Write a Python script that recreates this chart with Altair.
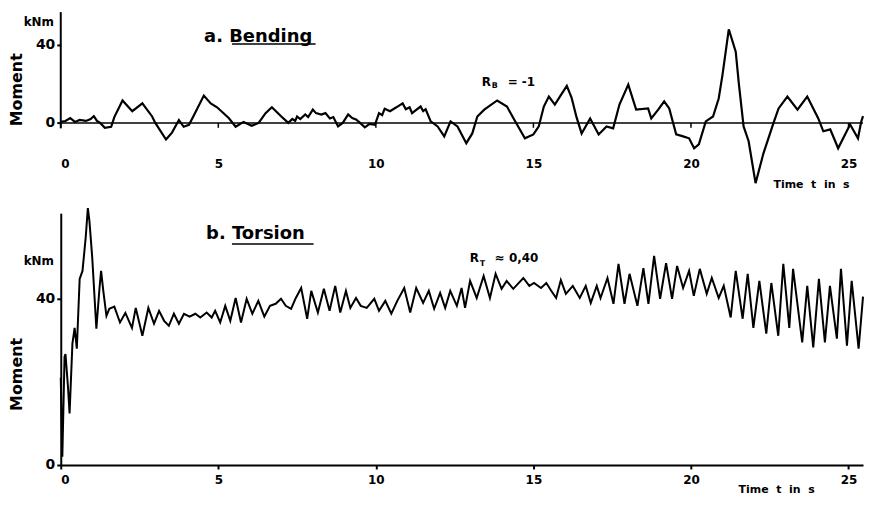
import altair as alt
import pandas as pd

# ---------------- data ----------------
bend_t = [0, 0.15, 0.3, 0.45, 0.6, 0.8, 0.95, 1.05, 1.15, 1.25, 1.4, 1.6, 1.7, 1.96, 2.27, 2.59,
          2.9, 3.0, 3.34, 3.53, 3.75, 3.9, 4.07, 4.23, 4.54, 4.76, 4.96, 5.33, 5.55, 5.8, 6.06,
          6.28, 6.5, 6.7, 7.0, 7.22, 7.35, 7.44, 7.5, 7.6, 7.76, 7.85, 8.0, 8.1, 8.27, 8.4,
          8.54, 8.65, 8.8, 8.95, 9.12, 9.25, 9.37, 9.5, 9.65, 9.8, 9.97, 10.1, 10.2, 10.28,
          10.45, 10.6, 10.7, 10.85, 10.95, 11.07, 11.15, 11.23, 11.42, 11.5, 11.58, 11.74,
          11.96, 12.17, 12.37, 12.59, 12.87, 13.06, 13.22, 13.44, 13.85, 14.16, 14.42, 14.73,
          15.0, 15.17, 15.33, 15.49, 15.68, 15.84, 16.06, 16.21, 16.37, 16.53, 16.8, 17.07,
          17.32, 17.53, 17.73, 18.01, 18.26, 18.64, 18.74, 18.96, 19.15, 19.31, 19.53, 19.75,
          19.94, 20.1, 20.25, 20.47, 20.7, 20.88, 21.0, 21.2, 21.42, 21.52, 21.67, 21.83,
          22.05, 22.3, 22.62, 22.78, 23.06, 23.38, 23.69, 24.04, 24.2, 24.42, 24.67, 25.05,
          25.3, 25.4, 25.46]
bend_m = [0.5, 1, 2.5, 0.5, 1.5, 1, 2, 3.5, 1, 0, -2.5, -2, 3, 11.5, 6, 10,
          3.3, 0, -8.5, -5, 1.5, -2, -1, 4, 14, 10, 8, 2.5, -2, 0.5, -1.5,
          0, 5, 8, 3.3, 0, 2, 1, 3.3, 2, 4.3, 3, 6.8, 5, 4.3, 5,
          2.3, 3, -1.8, 0, 4.3, 2.5, 1.8, 0, -2.3, -0.5, -1, 5, 4, 7.3,
          6, 7.5, 8.5, 10, 7, 8, 5, 6, 8.4, 6, 7, 0.8,
          -1.8, -6.9, 0.8, -1.8, -10.4, -5.4, 3.3, 6.8, 11.5, 8.4, 0.8, -7.9,
          -5.9, -1.8, 8.4, 13.5, 9.4, 13.5, 19, 13, 2.8, -5.4, 2.3, -5.9,
          -1.8, -2.8, 9.4, 19.6, 6.8, 7.4, 2.3, 6.8, 11, 7.4, -5.9, -6.9,
          -7.9, -13, -11, 0.8, 3.3, 12.5, 24.6, 48, 36.5, 20, -1.8, -9.4,
          -30.9, -15.6, 0, 7.4, 13.5, 6.8, 13.5, 2.3, -4.3, -3.3, -13, -0.8,
          -7.9, 0.5, 3.5]

tors_t = [0, 0.05, 0.12, 0.15, 0.23, 0.28, 0.37, 0.44, 0.51, 0.6, 0.69, 0.79, 0.86, 0.91, 1.0,
          1.13, 1.23, 1.28, 1.35, 1.45, 1.54, 1.7, 1.88, 2.05, 2.26, 2.38, 2.59, 2.78, 2.96,
          3.12, 3.28, 3.43, 3.59, 3.75, 3.91, 4.09, 4.27, 4.43, 4.63, 4.79, 4.9, 5.06, 5.22,
          5.38, 5.55, 5.72, 5.9, 6.08, 6.27, 6.46, 6.64, 6.82, 6.99, 7.14, 7.31, 7.46, 7.63,
          7.82, 7.95, 8.16, 8.35, 8.53, 8.71, 8.87, 9.05, 9.19, 9.37, 9.52, 9.71, 9.95, 10.1,
          10.3, 10.49, 10.68, 10.9, 11.09, 11.28, 11.5, 11.68, 11.85, 12.04, 12.2, 12.36,
          12.57, 12.72, 12.83, 12.99, 13.2, 13.42, 13.62, 13.8, 13.99, 14.15, 14.36, 14.68,
          14.87, 15.02, 15.24, 15.41, 15.56, 15.72, 15.87, 16.03, 16.25, 16.47, 16.66, 16.82,
          17.01, 17.13, 17.35, 17.54, 17.7, 17.89, 18.05, 18.3, 18.49, 18.65, 18.83, 19.02,
          19.21, 19.4, 19.56, 19.75, 19.94, 20.09, 20.28, 20.5, 20.66, 20.88, 21.04, 21.26,
          21.42, 21.64, 21.8, 21.98, 22.17, 22.39, 22.55, 22.77, 22.93, 23.12, 23.24, 23.53,
          23.69, 23.88, 24.06, 24.25, 24.41, 24.63, 24.76, 24.95, 25.1, 25.32, 25.46]
tors_m = [21, 2, 26, 26.7, 18.7, 12.4, 29.2, 33, 28, 44.8, 46.7, 54.6, 61.8, 58.7, 49.8,
          32.8, 42.6, 46.7, 41.9, 35.9, 37.6, 38.1, 34.3, 36.6, 33, 37.8, 31.1, 37.8, 34,
          37.1, 34.7, 33.5, 36.4, 34, 36.4, 35.7, 36.4, 35.5, 36.7, 35.5, 37.1, 34.3, 38.3,
          34.7, 40.2, 34.3, 40, 36.4, 39.5, 35.7, 38.3, 38.8, 40, 38.3, 37.6, 40.2, 42.6,
          35.2, 41.9, 36.7, 42.4, 37.1, 43.1, 36.7, 41.9, 37.8, 40.2, 38.3, 37.8, 40, 37.1,
          39.5, 36.4, 39.5, 42.6, 36.7, 42.6, 39, 41.9, 37.6, 41.4, 37.8, 41.9,
          38.3, 42.6, 37.8, 44.3, 40.2, 45.5, 40.2, 46, 42.4, 44.3, 42.4, 45,
          43.1, 43.8, 42.6, 43.8, 42, 40.2, 44.5, 41.2, 43.1, 40.2, 43.1, 39,
          43.1, 40.2, 45, 38.8, 48.4, 38.8, 46, 38.3, 47.4, 38.8, 50.3, 40,
          48.6, 40, 47.9, 42.6, 46.7, 40.7, 47.2, 41.2, 45, 40.2, 43.1, 35.5,
          46.7, 35.2, 46, 33, 44.3, 31.6, 43.8, 31.1, 48.4, 33, 47.2, 29.5,
          43.1, 28.3, 44.8, 29.5, 43.1, 30.4, 47.2, 28.7, 44.3, 28, 40.5]

x_ticks = [0, 5, 10, 15, 20, 25]
y_ticks = [0, 40]

# ---------------- layout / style ----------------
FONT = "DejaVu Sans"
W = 806
H1 = 174
H2 = 253
X_DOM = [0, 25.46]
Y1_DOM = [-32, 56.8]
Y2_DOM = [0, 60.6]
NB = "\u00a0"
TIME_LABEL = "Time" + NB + " t" + NB + " in" + NB + " s"

bend_df = pd.DataFrame({"t": bend_t, "m": bend_m})
tors_df = pd.DataFrame({"t": tors_t, "m": tors_m})
tick_df = pd.DataFrame({"t": x_ticks})


def txt(s, x, y, size=12, weight="bold", align="left", angle=0):
    kw = dict(text=s, fontSize=size, fontWeight=weight, font=FONT, align=align,
              baseline="middle", color="black")
    if angle:
        kw["angle"] = angle
    return alt.Chart(alt.Data(values=[{}])).mark_text(**kw).encode(
        x=alt.value(x), y=alt.value(y))


def hline(x1, x2, y, w=1.5):
    return alt.Chart(alt.Data(values=[{}])).mark_rule(color="black", strokeWidth=w).encode(
        x=alt.value(x1), x2=alt.value(x2), y=alt.value(y))


# ---------------- panel a: bending ----------------
x_top = alt.X("t:Q", scale=alt.Scale(domain=X_DOM, nice=False, zero=False),
              axis=alt.Axis(values=x_ticks, domain=False, ticks=False, grid=False,
                            labelPadding=0, offset=-27, labelFontSize=12, labelFont=FONT,
                            labelFontWeight="bold", title=None))
y_top = alt.Y("m:Q", scale=alt.Scale(domain=Y1_DOM, nice=False, zero=False),
              axis=alt.Axis(values=y_ticks, domain=False, tickSize=4, grid=False,
                            labelPadding=2, labelFontSize=14, labelFont=FONT,
                            labelFontWeight="bold", title=None))

bend_line = alt.Chart(bend_df).mark_line(color="black", strokeWidth=2.2).encode(x=x_top, y=y_top)
zero_rule = alt.Chart(alt.Data(values=[{}])).mark_rule(color="black", strokeWidth=1.5).encode(
    y=alt.datum(0))
yaxis_rule = alt.Chart(alt.Data(values=[{}])).mark_rule(color="black", strokeWidth=2).encode(
    x=alt.datum(0), y=alt.datum(-2.8), y2=alt.datum(56.8))
zero_ticks = alt.Chart(tick_df).mark_rule(color="black", strokeWidth=1.5).encode(
    x="t:Q", y=alt.datum(0), y2=alt.datum(-2.5))

top = alt.layer(
    zero_rule, yaxis_rule, zero_ticks, bend_line,
    txt("kNm", -22, 10, size=12, align="center"),
    txt("Moment", -44, 78, size=16, align="center", angle=270),
    txt("a. Bending", 144, 25, size=18),
    hline(172, 256, 32),
    txt("R", 423, 70, size=12),
    txt("B", 433, 74, size=8),
    txt("= -1", 449, 70, size=12),
    txt(TIME_LABEL, 716, 174, size=11),
).properties(width=W, height=H1)

# ---------------- panel b: torsion ----------------
x_bot = alt.X("t:Q", scale=alt.Scale(domain=X_DOM, nice=False, zero=False),
              axis=alt.Axis(values=x_ticks, domain=True, tickSize=4, grid=False,
                            labelPadding=6, labelFontSize=12, labelFont=FONT,
                            labelFontWeight="bold", title=None))
y_bot = alt.Y("m:Q", scale=alt.Scale(domain=Y2_DOM, nice=False, zero=False),
              axis=alt.Axis(values=y_ticks, domain=True, tickSize=4, grid=False,
                            labelPadding=2, labelFontSize=14, labelFont=FONT,
                            labelFontWeight="bold", title=None))

tors_line = alt.Chart(tors_df).mark_line(color="black", strokeWidth=2).encode(x=x_bot, y=y_bot)

bottom = alt.layer(
    tors_line,
    txt("kNm", -22, 48, size=12, align="center"),
    txt("Moment", -44, 162, size=16, align="center", angle=270),
    txt("b. Torsion", 146, 21, size=18),
    hline(172, 254, 31),
    txt("R", 411, 45, size=12),
    txt("T", 421, 51, size=8),
    txt("\u2248 0,40", 436, 45, size=12),
    txt(TIME_LABEL, 681, 278, size=11),
).properties(width=W, height=H2)

chart = alt.vconcat(top, bottom, spacing=28, bounds="flush").properties(
    padding={"left": 1, "top": 2, "right": 0, "bottom": 0}
).configure_view(stroke=None).configure_axis(
    domainColor="black", tickColor="black", labelColor="black",
    domainWidth=2, tickWidth=2
)

chart.save("out.html", embed_options={"renderer": "svg", "actions": False})
